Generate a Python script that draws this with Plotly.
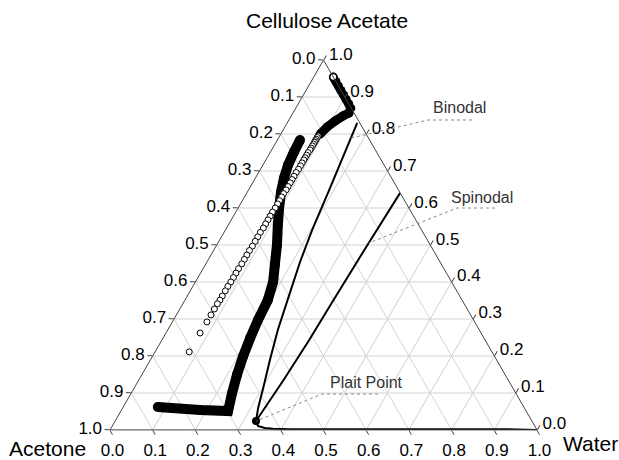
import plotly.graph_objects as go

# ---------------- data (mass fractions) ----------------
tick_vals = [0, 0.1, 0.2, 0.3, 0.4, 0.5, 0.6, 0.7, 0.8, 0.9, 1.0]
tick_labels = ["0.0", "0.1", "0.2", "0.3", "0.4", "0.5", "0.6", "0.7", "0.8", "0.9", "1.0"]

# thick path near the top (cellulose acetate / water fractions)
ca_top = [0.954, 0.942, 0.930, 0.918, 0.906, 0.894, 0.882, 0.870, 0.857, 0.849, 0.835, 0.819, 0.800]
water_top = [0.046, 0.058, 0.070, 0.082, 0.094, 0.106, 0.118, 0.129, 0.131, 0.121, 0.109, 0.099, 0.092]

# open circles
ca_circles = [0.795, 0.791, 0.786, 0.782, 0.778, 0.773, 0.768, 0.762, 0.757, 0.750,
              0.743, 0.736, 0.730, 0.722, 0.714, 0.705, 0.696, 0.686, 0.677, 0.668,
              0.658, 0.649, 0.639, 0.630, 0.620, 0.611, 0.600, 0.589, 0.578, 0.568,
              0.557, 0.546, 0.534, 0.522, 0.510, 0.497, 0.485, 0.473, 0.461, 0.449,
              0.436, 0.424, 0.412, 0.400, 0.388, 0.376, 0.362, 0.351, 0.341, 0.327,
              0.311, 0.292, 0.262, 0.211]
water_circles = [0.090, 0.090, 0.090, 0.090, 0.090, 0.090, 0.090, 0.090, 0.090, 0.089,
                 0.089, 0.089, 0.089, 0.089, 0.089, 0.089, 0.088, 0.088, 0.088, 0.088,
                 0.088, 0.088, 0.087, 0.087, 0.087, 0.087, 0.087, 0.086, 0.086, 0.086,
                 0.086, 0.086, 0.085, 0.085, 0.085, 0.085, 0.084, 0.084, 0.084, 0.084,
                 0.083, 0.083, 0.083, 0.083, 0.082, 0.082, 0.082, 0.082, 0.081, 0.081,
                 0.081, 0.081, 0.080, 0.080]

# thick lower path
ca_path = [0.784, 0.751, 0.716, 0.681, 0.643, 0.600, 0.554, 0.500, 0.446, 0.400,
           0.351, 0.297, 0.249, 0.200, 0.149, 0.100, 0.051, 0.054, 0.062]
water_path = [0.053, 0.055, 0.059, 0.067, 0.079, 0.096, 0.116, 0.141, 0.163, 0.182,
              0.194, 0.198, 0.204, 0.212, 0.223, 0.236, 0.251, 0.184, 0.081]

# binodal
ca_binodal = [0.830, 0.757, 0.649, 0.541, 0.454, 0.357, 0.270, 0.189, 0.114, 0.060,
              0.024, 0.011, 0.005, 0.003, 0.002, 0.002, 0.002, 0.002, 0.0]
water_binodal = [0.164, 0.174, 0.189, 0.203, 0.218, 0.239, 0.258, 0.280, 0.302, 0.317,
                 0.330, 0.341, 0.360, 0.380, 0.420, 0.560, 0.800, 0.920, 1.0]

# spinodal
ca_spinodal = [0.024, 0.135, 0.243, 0.351, 0.505, 0.641]
water_spinodal = [0.330, 0.339, 0.345, 0.348, 0.353, 0.359]

# plait point
ca_plait = [0.024]
water_plait = [0.330]


def acetone(ca, water):
    return [round(1 - a - c, 4) for a, c in zip(ca, water)]


FONT = "Liberation Sans, Arial, Helvetica, sans-serif"
W, H = 619, 460
ML, MR, MT, MB = 110, 82, 60, 30


def paper(x, y):
    """pixel position -> paper fraction (for labels / leader lines)"""
    return (x - ML) / (W - ML - MR), (H - MB - y) / (H - MT - MB)


def tern_paper(a, c):
    """ternary point -> paper fraction (triangle fills the domain)"""
    return c + a / 2, a


fig = go.Figure()

fig.add_trace(go.Scatterternary(
    a=ca_binodal, b=acetone(ca_binodal, water_binodal), c=water_binodal,
    mode="lines", line=dict(color="black", width=2), cliponaxis=False))
fig.add_trace(go.Scatterternary(
    a=ca_spinodal, b=acetone(ca_spinodal, water_spinodal), c=water_spinodal,
    mode="lines", line=dict(color="black", width=2), cliponaxis=False))
fig.add_trace(go.Scatterternary(
    a=ca_path, b=acetone(ca_path, water_path), c=water_path,
    mode="lines+markers", line=dict(color="black", width=10),
    marker=dict(color="black", size=10), cliponaxis=False))
fig.add_trace(go.Scatterternary(
    a=ca_top, b=acetone(ca_top, water_top), c=water_top,
    mode="lines+markers", line=dict(color="black", width=9),
    marker=dict(color="black", size=9), cliponaxis=False))
fig.add_trace(go.Scatterternary(
    a=ca_circles, b=acetone(ca_circles, water_circles), c=water_circles,
    mode="markers", marker=dict(color="white", size=6, line=dict(color="black", width=1)),
    cliponaxis=False))
fig.add_trace(go.Scatterternary(
    a=ca_top[:1], b=acetone(ca_top[:1], water_top[:1]), c=water_top[:1],
    mode="markers", marker=dict(color="white", size=7, line=dict(color="black", width=1.5)),
    cliponaxis=False))
fig.add_trace(go.Scatterternary(
    a=ca_plait, b=acetone(ca_plait, water_plait), c=water_plait,
    mode="markers", marker=dict(color="black", size=8), cliponaxis=False))

axis = dict(
    tickvals=tick_vals, ticktext=tick_labels[::-1],
    ticks="outside", ticklen=5, tickcolor="#444", tickwidth=1,
    showline=True, linecolor="#444", linewidth=1,
    showgrid=True, gridcolor="#d4d4d4", gridwidth=1,
    tickfont=dict(family=FONT, size=17, color="black"),
    title=dict(text=""),
)

fig.update_layout(
    width=W, height=H,
    margin=dict(l=ML, r=MR, t=MT, b=MB),
    paper_bgcolor="white", plot_bgcolor="white",
    showlegend=False,
    font=dict(family=FONT, color="black"),
    ternary=dict(sum=1, bgcolor="white", domain=dict(x=[0, 1], y=[0, 1]),
                 aaxis=axis, baxis=axis, caxis=axis),
)

# leader lines
bx, by = tern_paper(0.789, 0.1695)
sx, sy = tern_paper(ca_spinodal[4], water_spinodal[4])
px_, py_ = tern_paper(ca_plait[0], water_plait[0])
leaders = [
    [paper(472, 120), paper(428, 120), (bx, by)],
    [paper(495, 208), paper(457, 208), (sx, sy)],
    [paper(378, 394), paper(322, 394), (px_, py_)],
]
for pts in leaders:
    d = "M " + " L ".join(f"{x:.4f},{y:.4f}" for x, y in pts)
    fig.add_shape(type="path", path=d, xref="paper", yref="paper",
                  line=dict(color="#888", width=1, dash="dot"))

labels = [
    ("Binodal", 459, 107, 16, "#333"),
    ("Spinodal", 482, 197, 16, "#333"),
    ("Plait Point", 366, 382, 16, "#333"),
    ("Cellulose Acetate", 327, 20, 21, "black"),
    ("Acetone", 47, 448, 21, "black"),
    ("Water", 590, 443, 21, "black"),
]
for text, x, y, size, col in labels:
    xp, yp = paper(x, y)
    fig.add_annotation(x=xp, y=yp, xref="paper", yref="paper", text=text,
                       showarrow=False, xanchor="center", yanchor="middle",
                       font=dict(family=FONT, size=size, color=col))

fig.write_html("out.html")
